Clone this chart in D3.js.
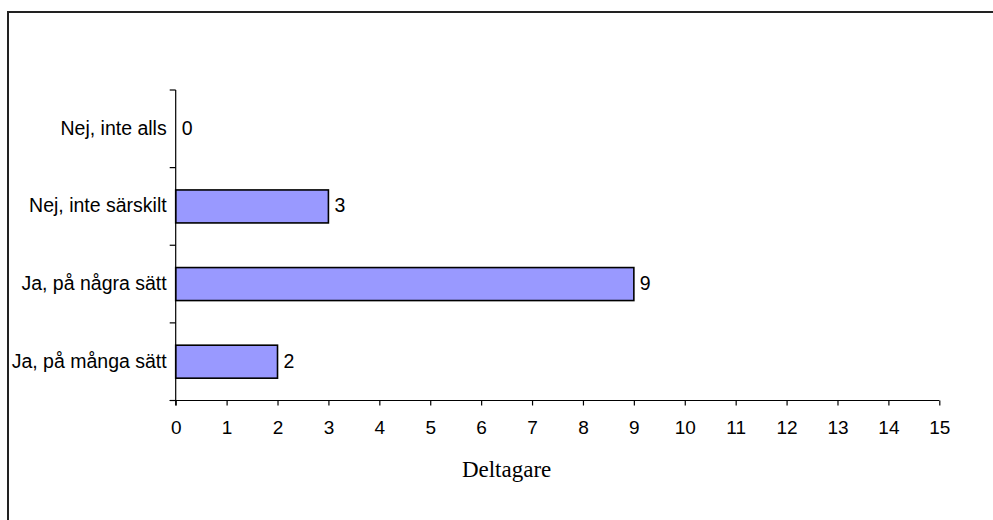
<!DOCTYPE html>
<html>
<head>
<meta charset="utf-8">
<script src="https://cdn.jsdelivr.net/npm/d3@7"></script>
<style>
  body { margin: 0; background: #fff; }
  svg { display: block; }
</style>
</head>
<body>
<div id="chart"></div>
<script>
const categories = ["Nej, inte alls", "Nej, inte särskilt", "Ja, på några sätt", "Ja, på många sätt"];
const values = [0, 3, 9, 2];
const xTicks = d3.range(0, 16);
const xTitle = "Deltagare";

const W = 993, H = 520;
const margin = {top: 90, left: 175.7},
    width = 939.3 - margin.left,
    height = 400.5 - margin.top;

const svg = d3.select("#chart").append("svg")
    .attr("width", W)
    .attr("height", H);

// outer frame (runs off the right and bottom edges)
svg.append("rect")
    .attr("x", 8).attr("y", 12)
    .attr("width", W).attr("height", H)
    .attr("fill", "none")
    .attr("stroke", "#222")
    .attr("stroke-width", 2);

const g = svg.append("g")
    .attr("transform", "translate(" + margin.left + "," + margin.top + ")");

const x = d3.scaleLinear().domain([0, 15]).range([0, width]);
const y = d3.scaleBand().domain(categories).range([0, height]).padding(0);

const barH = y.bandwidth() * 0.425;
const fontSans = "Liberation Sans, Arial, sans-serif";

// bars
g.selectAll(".bar")
    .data(values)
    .enter().append("rect")
    .attr("class", "bar")
    .attr("x", 0)
    .attr("y", (d, i) => y(categories[i]) + (y.bandwidth() - barH) / 2)
    .attr("width", d => x(d))
    .attr("height", barH)
    .attr("fill", "#9999ff")
    .attr("stroke", "#000")
    .attr("stroke-width", 1.6)
    .style("display", d => d > 0 ? null : "none");

// value labels
g.selectAll(".val")
    .data(values)
    .enter().append("text")
    .attr("x", d => x(d) + 6)
    .attr("y", (d, i) => y(categories[i]) + y.bandwidth() / 2)
    .attr("dy", "0.3em")
    .attr("font-family", fontSans)
    .attr("font-size", 19.5)
    .attr("fill", "#000")
    .text(d => d);

// y axis: ticks at band edges
const yEdges = categories.map(c => y(c)).concat([height]);
g.append("line")
    .attr("x1", 0).attr("x2", 0)
    .attr("y1", 0).attr("y2", height + 5)
    .attr("stroke", "#000").attr("stroke-width", 1.2);
g.selectAll(".ytick")
    .data(yEdges)
    .enter().append("line")
    .attr("x1", -6).attr("x2", 0)
    .attr("y1", d => d).attr("y2", d => d)
    .attr("stroke", "#000").attr("stroke-width", 1.2);
g.selectAll(".ylab")
    .data(categories)
    .enter().append("text")
    .attr("x", -9)
    .attr("y", d => y(d) + y.bandwidth() / 2)
    .attr("dy", "0.3em")
    .attr("text-anchor", "end")
    .attr("font-family", fontSans)
    .attr("font-size", 19.5)
    .attr("fill", "#000")
    .text(d => d);

// x axis
const xAxis = g.append("g")
    .attr("transform", "translate(0," + height + ")")
    .call(d3.axisBottom(x).tickValues(xTicks).tickSize(5).tickPadding(15).tickFormat(d3.format("d")));
xAxis.select(".domain").remove();
xAxis.append("line")
    .attr("x1", -6).attr("x2", width)
    .attr("stroke", "#000").attr("stroke-width", 1.2);
xAxis.selectAll(".tick line").attr("stroke-width", 1.2);
xAxis.selectAll("text")
    .attr("font-family", fontSans)
    .attr("font-size", 19)
    .attr("fill", "#000");

// axis title
svg.append("text")
    .attr("x", margin.left + x(6.5))
    .attr("y", 477)
    .attr("text-anchor", "middle")
    .attr("font-family", "Liberation Serif, Times New Roman, serif")
    .attr("font-size", 23)
    .attr("fill", "#000")
    .text(xTitle);
</script>
</body>
</html>
